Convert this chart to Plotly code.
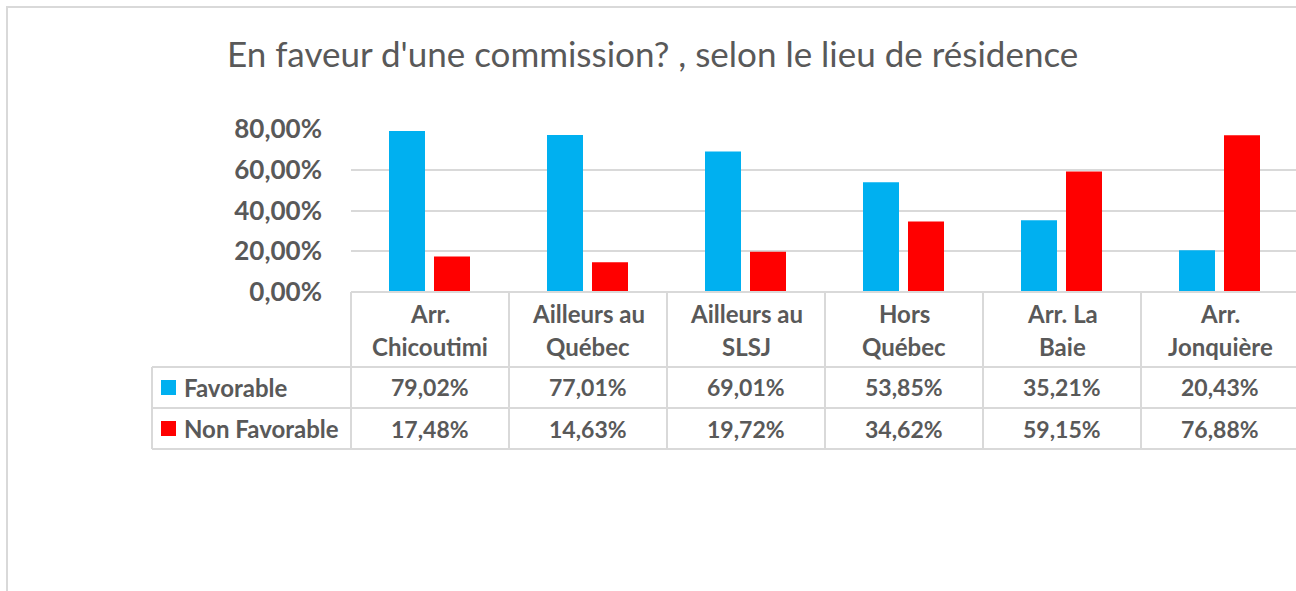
import plotly.graph_objects as go

# ---------------- data ----------------
categories = ["Arr.<br>Chicoutimi", "Ailleurs au<br>Québec", "Ailleurs au<br>SLSJ",
              "Hors<br>Québec", "Arr. La<br>Baie", "Arr.<br>Jonquière"]
favorable = [0.7902, 0.7701, 0.6901, 0.5385, 0.3521, 0.2043]
non_favorable = [0.1748, 0.1463, 0.1972, 0.3462, 0.5915, 0.7688]
series_names = ["Favorable", "Non Favorable"]
series_colors = ["#00B0F0", "#FF0000"]
y_ticks = [0, 0.2, 0.4, 0.6, 0.8]
title_text = "En faveur d'une commission? , selon le lieu de résidence"

# ---------------- layout helpers ----------------
W, H = 1296, 591
FONT = "Lato, Carlito, Calibri, sans-serif"
TXT = "#595959"
GRID = "#d9d9d9"


def px(x):
    return x / W


def py(y):
    return 1 - y / H


# plot area in pixels
X0, COLW = 351, 158
XEND = W
Y_TOP, Y_ZERO = 129, 292
n = len(categories)
x_range = [-0.5, -0.5 + n * (XEND - X0) / (n * COLW)]

fig = go.Figure()
bar_w = 36 / COLW
offsets = [-41 / COLW, 4 / COLW]
for name, vals, col, off in zip(series_names, [favorable, non_favorable], series_colors, offsets):
    fig.add_trace(go.Bar(
        x=list(range(n)), y=vals, name=name, marker=dict(color=col, line=dict(width=0)),
        width=bar_w, offset=off, showlegend=False, hoverinfo="skip"))

shapes = []
annotations = []

# outer chart border
shapes.append(dict(type="rect", xref="paper", yref="paper", x0=px(7), x1=px(1320),
                   y0=py(7), y1=py(620), line=dict(color=GRID, width=2), layer="below"))

# table horizontal lines
for yy, xl in [(Y_ZERO, X0), (367, 152), (408, 152), (449, 152)]:
    shapes.append(dict(type="line", xref="paper", yref="paper", x0=px(xl), x1=px(1320),
                       y0=py(yy), y1=py(yy), line=dict(color=GRID, width=2), layer="above"))
# left vertical line of legend column
shapes.append(dict(type="line", xref="paper", yref="paper", x0=px(152), x1=px(152),
                   y0=py(367), y1=py(449), line=dict(color=GRID, width=2)))
# column separators
for i in range(n + 1):
    xp = X0 + i * COLW
    if xp > W:
        continue
    shapes.append(dict(type="line", xref="paper", yref="paper", x0=px(xp), x1=px(xp),
                       y0=py(Y_ZERO), y1=py(449), line=dict(color=GRID, width=2)))

TF = 24
VF = 23
# header labels
for i, cat in enumerate(categories):
    lines = cat.split("<br>")
    for j, ln in enumerate(lines):
        annotations.append(dict(xref="x", yref="paper", x=i, y=py(313 + 33 * j), text=ln,
                                showarrow=False, xanchor="center", yanchor="middle",
                                font=dict(family=FONT, size=TF, color=TXT, weight="bold")))

# values rows
row_y = [387.5, 428.5]
for r, vals in enumerate([favorable, non_favorable]):
    for i, v in enumerate(vals):
        annotations.append(dict(xref="x", yref="paper", x=i, y=py(row_y[r]),
                                text=f"{v*100:.2f}%".replace(".", ","),
                                showarrow=False, xanchor="center", yanchor="middle",
                                font=dict(family=FONT, size=VF, color=TXT, weight="bold")))
    # legend key
    shapes.append(dict(type="rect", xref="paper", yref="paper", x0=px(161), x1=px(176),
                       y0=py(row_y[r] - 7.5), y1=py(row_y[r] + 7.5),
                       fillcolor=series_colors[r], line=dict(width=0)))
    annotations.append(dict(xref="paper", yref="paper", x=px(182), y=py(row_y[r]),
                            text=series_names[r], showarrow=False, xanchor="left", yanchor="middle",
                            font=dict(family=FONT, size=TF, color=TXT, weight="bold")))

# title
annotations.append(dict(xref="paper", yref="paper", x=px(652), y=py(53), text=title_text,
                        showarrow=False, xanchor="center", yanchor="middle",
                        font=dict(family=FONT, size=35, color=TXT)))

fig.update_layout(
    width=W, height=H,
    margin=dict(l=0, r=0, t=0, b=0, pad=0, autoexpand=False),
    paper_bgcolor="white", plot_bgcolor="white",
    separators=", ",
    shapes=shapes, annotations=annotations,
    xaxis=dict(domain=[px(X0), 1.0], range=x_range, showgrid=False, zeroline=False,
               showticklabels=False, ticks="", showline=False, fixedrange=True, automargin=False),
    yaxis=dict(domain=[py(Y_ZERO), py(Y_TOP)], range=[0, 0.8], tickvals=y_ticks,
               tickformat=".2%", showgrid=True, gridcolor=GRID, gridwidth=2,
               zeroline=False, showline=False, ticks="", ticklabelstandoff=28, automargin=False,
               tickfont=dict(family=FONT, size=26, color=TXT, weight="bold"), fixedrange=True),
    showlegend=False,
)

fig.write_html("out.html", config={"displayModeBar": False},
               post_script="document.body.style.margin='0';document.body.style.overflow='hidden';")
